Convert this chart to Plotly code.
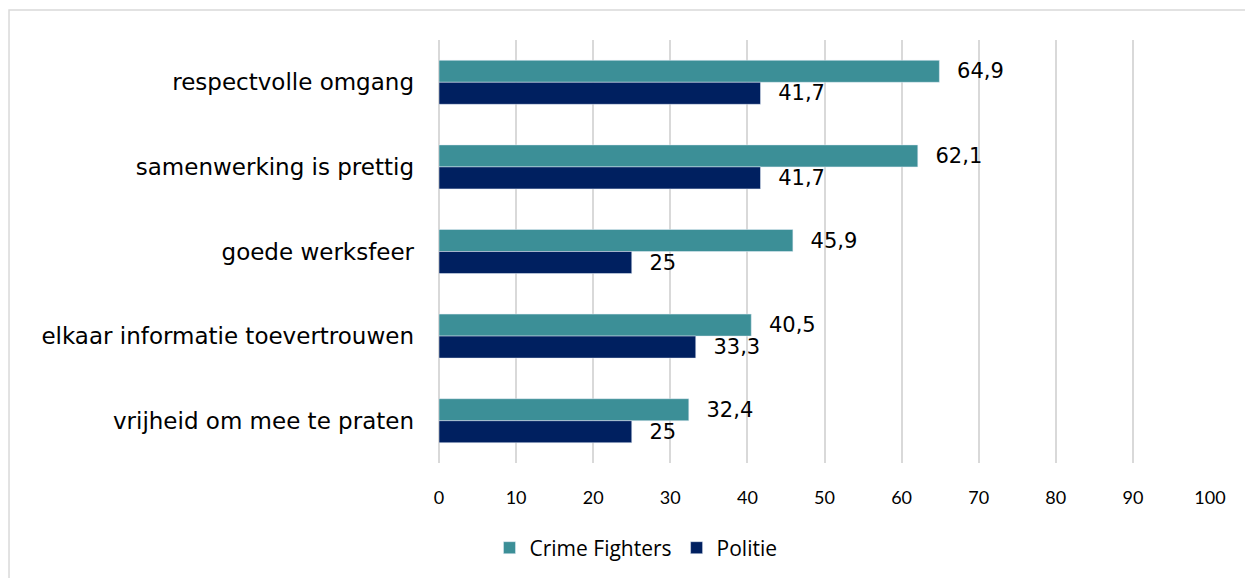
import plotly.graph_objects as go

categories = [
    "respectvolle omgang",
    "samenwerking is prettig",
    "goede werksfeer",
    "elkaar informatie toevertrouwen",
    "vrijheid om mee te praten",
]
crime_fighters = [64.9, 62.1, 45.9, 40.5, 32.4]
politie = [41.7, 41.7, 25, 33.3, 25]
x_ticks = [0, 10, 20, 30, 40, 50, 60, 70, 80, 90, 100]

teal = "#3C8F97"
navy = "#002060"
label_font = dict(family="DejaVu Sans, Verdana, sans-serif", size=21, color="#000000")

fig = go.Figure()
fig.add_trace(go.Bar(
    name="Crime Fighters", y=categories, x=crime_fighters, orientation="h",
    marker=dict(color=teal), texttemplate="\u2002\u2009%{x}", textposition="outside",
    textfont=label_font, constraintext="none", cliponaxis=False,
))
fig.add_trace(go.Bar(
    name="Politie", y=categories, x=politie, orientation="h",
    marker=dict(color=navy), texttemplate="\u2002\u2009%{x}", textposition="outside",
    textfont=label_font, constraintext="none", cliponaxis=False,
))

fig.update_layout(
    width=1245, height=570,
    margin=dict(l=431, r=43, t=32, b=115, autoexpand=False),
    paper_bgcolor="white", plot_bgcolor="white",
    barmode="group", bargap=0.48, bargroupgap=0,
    separators=",.",
    xaxis=dict(
        range=[0, 100], tickvals=x_ticks, showgrid=True, gridcolor="#D9D9D9",
        gridwidth=2, zeroline=True, zerolinecolor="#D9D9D9", zerolinewidth=2,
        showline=False, ticks="", ticklabelstandoff=22, automargin=False,
        tickfont=dict(family="Lato, Open Sans, sans-serif", size=18, color="#000000"),
    ),
    yaxis=dict(
        autorange="reversed", showgrid=False, zeroline=False, showline=False,
        ticks="", ticklabelstandoff=24, automargin=False,
        tickfont=dict(family="DejaVu Sans, Verdana, sans-serif", size=23, color="#000000"),
    ),
    legend=dict(
        orientation="h", x=0.2555, xanchor="center",
        y=-0.201, yanchor="middle",
        font=dict(family="Open Sans, sans-serif", size=21, color="#000000"),
        itemwidth=30,
    ),
    shapes=[dict(
        type="rect", xref="paper", yref="paper",
        x0=-0.5577, x1=1.07, y0=1.0709, y1=-0.32,
        line=dict(color="#D9D9D9", width=1.5), fillcolor="rgba(0,0,0,0)", layer="below",
    )],
    showlegend=True,
)

fig.write_html("out.html")
